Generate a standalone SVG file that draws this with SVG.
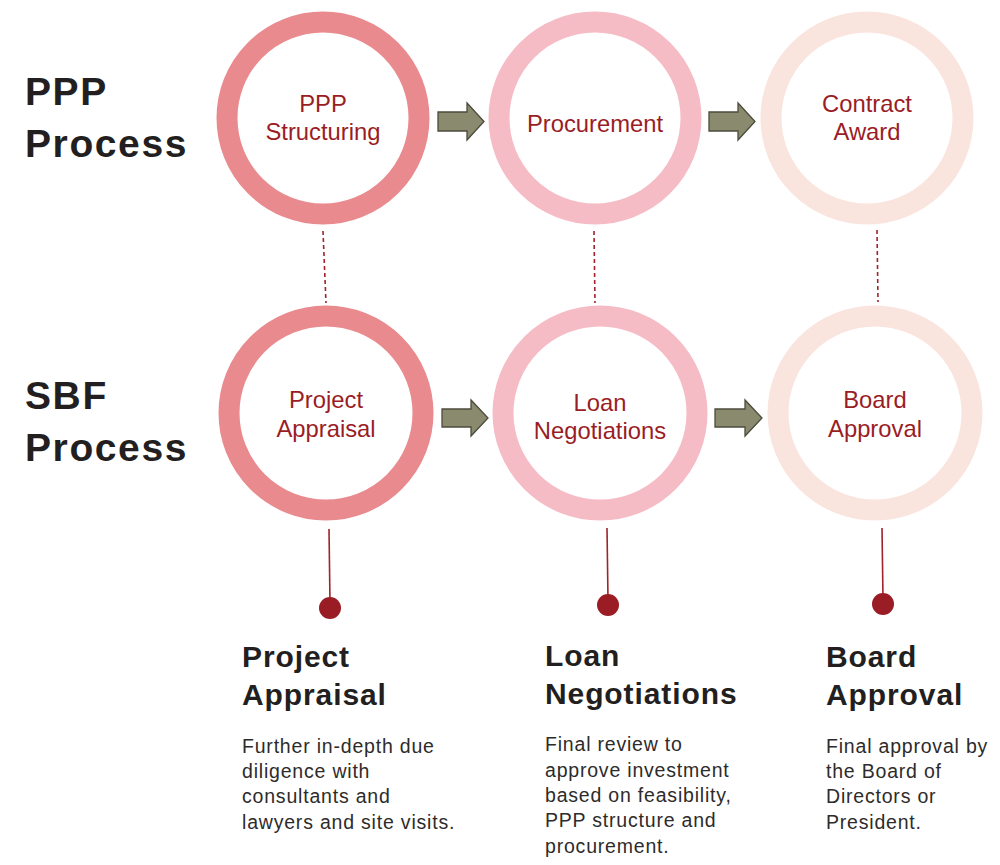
<svg xmlns="http://www.w3.org/2000/svg" width="1000" height="865" viewBox="0 0 1000 865">
<style>
.ring{fill:none;stroke-width:21}
.c1{stroke:#E98A8E}
.c2{stroke:#F6BCC6}
.c3{stroke:#FAE4DE}
.lbl{font-family:"Liberation Sans",Arial,sans-serif;font-size:23.8px;fill:#9A1D25;text-anchor:middle}
.side{font-family:"Liberation Sans",Arial,sans-serif;font-size:39px;font-weight:bold;fill:#231F20;letter-spacing:1.6px}
.head{font-family:"Liberation Sans",Arial,sans-serif;font-size:30px;font-weight:bold;fill:#231F20;letter-spacing:0.9px}
.body{font-family:"Liberation Sans",Arial,sans-serif;font-size:19.5px;fill:#2E2B2B;letter-spacing:0.8px}
.dash{stroke:#A0222A;stroke-width:1.6;stroke-dasharray:4 3;fill:none}
.solid{stroke:#A0222A;stroke-width:1.6;fill:none}
.dot{fill:#9A1D25}
.arrow{fill:#8A8A6E;stroke:#4C4C3C;stroke-width:1.3}
</style>
<rect width="1000" height="865" fill="#fff"/>
<g id="side-labels">
<text class="side" x="25" y="105">PPP</text>
<text class="side" x="25" y="157">Process</text>
<text class="side" x="25" y="409">SBF</text>
<text class="side" x="25" y="461">Process</text>
</g>
<g id="connectors">
<line class="dash" x1="323" y1="231" x2="326" y2="303"/>
<line class="dash" x1="594" y1="231" x2="595" y2="303"/>
<line class="dash" x1="877" y1="230" x2="878" y2="302"/>
<line class="solid" x1="329" y1="529" x2="330" y2="603"/>
<line class="solid" x1="607" y1="528" x2="608" y2="600"/>
<line class="solid" x1="882" y1="528" x2="883" y2="599"/>
<circle class="dot" cx="330" cy="608" r="11"/>
<circle class="dot" cx="608" cy="605" r="11"/>
<circle class="dot" cx="883" cy="604" r="11"/>
<polygon class="arrow" points="438,112 467,112 467,103 484,121.5 467,140 467,131 438,131"/>
<polygon class="arrow" points="709,112 738,112 738,103 755,121.5 738,140 738,131 709,131"/>
<polygon class="arrow" points="442,409 471,409 471,400 488,418 471,436 471,427 442,427"/>
<polygon class="arrow" points="715,409 745,409 745,400 762,418 745,436 745,427 715,427"/>
</g>
<g id="ppp-structuring">
<circle class="ring c1" cx="323" cy="118" r="96"/>
<text class="lbl" x="323" y="112">PPP</text>
<text class="lbl" x="323" y="140">Structuring</text>
</g>
<g id="procurement">
<circle class="ring c2" cx="595" cy="118" r="96"/>
<text class="lbl" x="595" y="132">Procurement</text>
</g>
<g id="contract-award">
<circle class="ring c3" cx="867" cy="118" r="96"/>
<text class="lbl" x="867" y="112">Contract</text>
<text class="lbl" x="867" y="140">Award</text>
</g>
<g id="project-appraisal">
<circle class="ring c1" cx="326" cy="413" r="97"/>
<text class="lbl" x="326" y="408">Project</text>
<text class="lbl" x="326" y="437">Appraisal</text>
</g>
<g id="loan-negotiations">
<circle class="ring c2" cx="600" cy="413" r="97"/>
<text class="lbl" x="600" y="411">Loan</text>
<text class="lbl" x="600" y="439">Negotiations</text>
</g>
<g id="board-approval">
<circle class="ring c3" cx="875" cy="413" r="97"/>
<text class="lbl" x="875" y="408">Board</text>
<text class="lbl" x="875" y="437">Approval</text>
</g>
<g id="desc-project-appraisal">
<text class="head" x="242" y="667">Project</text>
<text class="head" x="242" y="705">Appraisal</text>
<text class="body" x="242" y="753">Further in-depth due</text>
<text class="body" x="242" y="778">diligence with</text>
<text class="body" x="242" y="803">consultants and</text>
<text class="body" x="242" y="829">lawyers and site visits.</text>
</g>
<g id="desc-loan-negotiations">
<text class="head" x="545" y="666">Loan</text>
<text class="head" x="545" y="704">Negotiations</text>
<text class="body" x="545" y="751">Final review to</text>
<text class="body" x="545" y="777">approve investment</text>
<text class="body" x="545" y="802">based on feasibility,</text>
<text class="body" x="545" y="827">PPP structure and</text>
<text class="body" x="545" y="853">procurement.</text>
</g>
<g id="desc-board-approval">
<text class="head" x="826" y="667">Board</text>
<text class="head" x="826" y="705">Approval</text>
<text class="body" x="826" y="753">Final approval by</text>
<text class="body" x="826" y="778">the Board of</text>
<text class="body" x="826" y="803">Directors or</text>
<text class="body" x="826" y="829">President.</text>
</g>
</svg>
